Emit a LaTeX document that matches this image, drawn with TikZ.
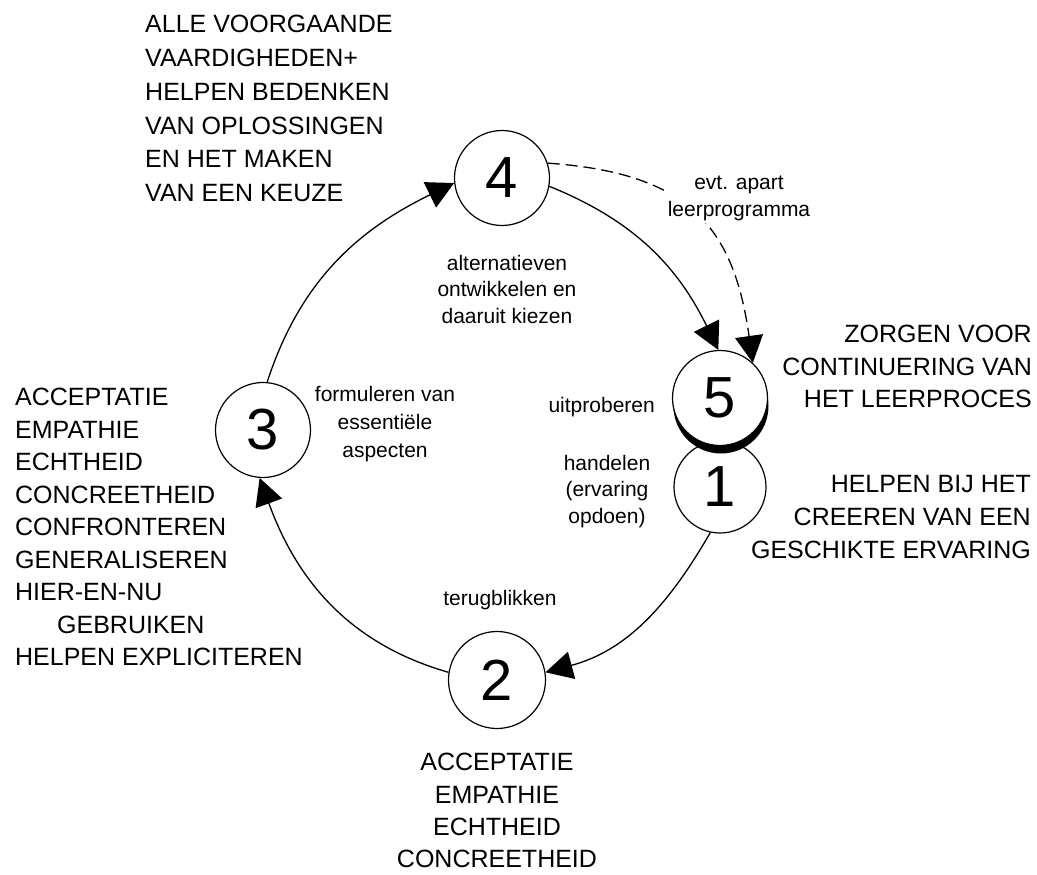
\documentclass[tikz,border=0pt]{standalone}
\usepackage{fontspec}
\setmainfont{Liberation Sans}
\usetikzlibrary{arrows.meta,shadows}
\begin{document}
\begin{tikzpicture}[x=1pt,y=1pt,
  stage/.style={circle,draw,line width=1.2pt,fill=white,minimum size=95pt,inner sep=0pt,font=\fontsize{58}{60}\selectfont},
  big/.style={inner sep=0pt,font=\fontsize{25}{33}\selectfont},
  small/.style={inner sep=0pt,font=\fontsize{21}{26.5}\selectfont},
  flow/.style={line width=1.3pt,-{Triangle[length=27pt,width=28pt]}},
  optional/.style={flow,dash pattern=on 12pt off 6pt}
]
\useasboundingbox (0,0) rectangle (1037,-875);

% stages
\node[stage] (n4) at (502,-178) {4};
\node[stage,minimum size=92pt] (n1) at (720,-487) {1};
\node[stage,drop shadow={shadow xshift=1pt,shadow yshift=-8pt,fill=black,opacity=1}] (n5) at (720,-398) {5};
\node[stage] (n3) at (263,-430) {3};
\node[stage,minimum size=97pt] (n2) at (497,-680) {2};

% cycle
\draw[flow] (n3.85) to[out=72,in=206] (n4.186);
\draw[flow] (n4.-10) to[out=-22,in=116] (n5.92);
\draw[optional] (n4.18) to[out=-4,in=98,looseness=1.25] (n5.47);
\draw[flow] (n1.258) to[out=240,in=15] (n2.9);
\draw[flow] (n2.171) to[out=164,in=290] (n3.266);

% small labels
\node[small,fill=white,inner sep=2pt,align=center,font=\fontsize{21}{27}\selectfont] (l45) at (739,-198.5) {evt. apart\\leerprogramma};
\node[small,align=center] (l4) at (507,-289) {alternatieven\\ontwikkelen en\\daaruit kiezen};
\node[small,align=center,font=\fontsize{21}{28}\selectfont] (l3) at (385,-424.5) {formuleren van\\essentiële\\aspecten};
\node[small,anchor=base east] (l5) at (655,-412) {uitproberen};
\node[small,align=center] (l1) at (607,-491.5) {handelen\\(ervaring\\opdoen)};
\node[small,anchor=base] (l2) at (500,-605) {terugblikken};

% big text blocks
\node[big,anchor=north west,align=left,font=\fontsize{25}{33.8}\selectfont] (t4) at (145,-15)
  {ALLE VOORGAANDE\\VAARDIGHEDEN+\\HELPEN BEDENKEN\\VAN OPLOSSINGEN\\EN HET MAKEN\\VAN EEN KEUZE};
\node[big,anchor=north west,align=left,font=\fontsize{25}{32.5}\selectfont] (t3) at (15,-388)
  {ACCEPTATIE\\EMPATHIE\\ECHTHEID\\CONCREETHEID\\CONFRONTEREN\\GENERALISEREN\\HIER-EN-NU\\\hspace*{42pt}GEBRUIKEN\\HELPEN EXPLICITEREN};
\node[big,anchor=north east,align=right,font=\fontsize{25}{32.5}\selectfont] (t5) at (1032,-325)
  {ZORGEN VOOR\\CONTINUERING VAN\\HET LEERPROCES};
\node[big,anchor=north east,align=right] (t1) at (1031,-475)
  {HELPEN BIJ HET\\CREEREN VAN EEN\\GESCHIKTE ERVARING};
\node[big,anchor=north,align=center,font=\fontsize{25}{32.4}\selectfont] (t2) at (497,-753)
  {ACCEPTATIE\\EMPATHIE\\ECHTHEID\\CONCREETHEID};
\end{tikzpicture}
\end{document}
